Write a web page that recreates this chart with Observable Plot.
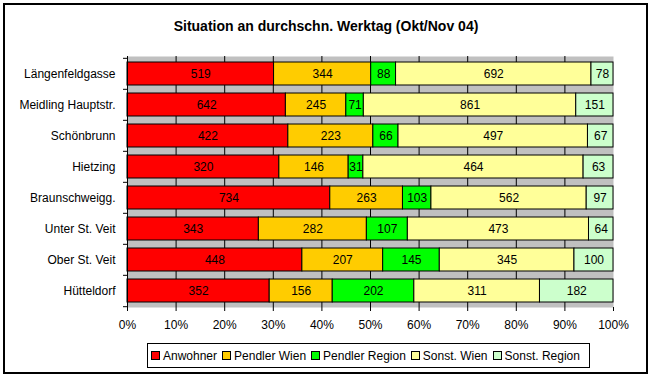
<!DOCTYPE html>
<html>
<head>
<meta charset="utf-8">
<script src="https://cdn.jsdelivr.net/npm/d3@7"></script>
<script src="https://cdn.jsdelivr.net/npm/@observablehq/plot@0.6"></script>
<style>
  html, body { margin: 0; padding: 0; background: #fff; }
  #wrap { position: relative; width: 652px; height: 376px; overflow: hidden; font-family: Arial, "Liberation Sans", sans-serif; }
  #frame { position: absolute; left: 3px; top: 3px; width: 641px; height: 367px; border: 2px solid #000; pointer-events: none; }
  #title { height: 44px; box-sizing: border-box; padding-top: 18px; text-align: center; font-weight: bold; font-size: 14px; line-height: 17px; color: #000; }
  #chart svg { display: block; }
  #legend { position: absolute; left: 147px; top: 343px; width: 443px; height: 25px; box-sizing: border-box; border: 1px solid #000; background: #fff; display: flex; align-items: center; padding-left: 3px; font-size: 12px; color: #000; }
  .item { display: flex; align-items: center; margin-right: 5px; white-space: nowrap; }
  .sw { width: 7px; height: 7px; border: 1px solid #000; margin-right: 3px; }
</style>
</head>
<body>
<div id="wrap">
  <div id="title">Situation an durchschn. Werktag (Okt/Nov 04)</div>
  <div id="chart"></div>
  <div id="legend"></div>
  <div id="frame"></div>
</div>
<script>
const stations = ["Längenfeldgasse", "Meidling Hauptstr.", "Schönbrunn", "Hietzing", "Braunschweigg.", "Unter St. Veit", "Ober St. Veit", "Hütteldorf"];
const categories = ["Anwohner", "Pendler Wien", "Pendler Region", "Sonst. Wien", "Sonst. Region"];
const colors = ["#FF0000", "#FFCC00", "#00FF00", "#FFFF99", "#CCFFCC"];
const anwohner      = [519, 642, 422, 320, 734, 343, 448, 352];
const pendlerWien   = [344, 245, 223, 146, 263, 282, 207, 156];
const pendlerRegion = [88, 71, 66, 31, 103, 107, 145, 202];
const sonstWien     = [692, 861, 497, 464, 562, 473, 345, 311];
const sonstRegion   = [78, 151, 67, 63, 97, 64, 100, 182];
const xTicks = [0, 0.1, 0.2, 0.3, 0.4, 0.5, 0.6, 0.7, 0.8, 0.9, 1];

const series = [anwohner, pendlerWien, pendlerRegion, sonstWien, sonstRegion];
const rows = stations.flatMap((s, i) => categories.map((c, j) => ({station: s, cat: c, value: series[j][i]})));

const W = 652, H = 300, mT = 12, mB = 37, mL = 127, mR = 39;
const step = (H - mT - mB) / stations.length;

const stackOpts = {offset: "normalize", x: "value", y: "station", z: "cat"};

const chart = Plot.plot({
  width: W, height: H,
  marginTop: mT, marginBottom: mB, marginLeft: mL, marginRight: mR,
  style: {fontFamily: "Arial, 'Liberation Sans', sans-serif", fontSize: "12px", color: "#000", background: "transparent"},
  x: {domain: [0, 1], axis: null, label: null},
  y: {domain: stations, paddingInner: 0.26, paddingOuter: 0.13, axis: null, label: null},
  color: {domain: categories, range: colors},
  marks: [
    Plot.frame({fill: "#C0C0C0", stroke: null}),
    Plot.ruleX(xTicks.slice(1, -1), {stroke: "#000", strokeWidth: 1}),
    Plot.barX(rows, Plot.stackX({...stackOpts, fill: "cat", stroke: "#000", strokeWidth: 1})),
    Plot.text(rows, Plot.stackX({...stackOpts, text: "value", fill: "#000", fontSize: 12})),
    Plot.ruleX([0], {stroke: "#000", strokeWidth: 1}),
    Plot.axisX({ticks: xTicks, tickFormat: d3.format(".0%"), tickSize: 4, tickPadding: 9, fontSize: 12, stroke: "#000", label: null}),
    Plot.ruleY([0], {stroke: "#000"}),
    Plot.axisY({tickSize: 0, tickPadding: 12, fontSize: 12, label: null}),
    Plot.axisY({tickSize: 4, text: null, dy: -step / 2, stroke: "#000", label: null}),
    Plot.axisY({ticks: stations.slice(-1), tickSize: 4, text: null, dy: step / 2, stroke: "#000", label: null})
  ]
});
document.getElementById("chart").appendChild(chart);

const legend = document.getElementById("legend");
categories.forEach((c, i) => {
  const item = document.createElement("div");
  item.className = "item";
  const sw = document.createElement("div");
  sw.className = "sw";
  sw.style.background = colors[i];
  const t = document.createElement("span");
  t.textContent = c;
  item.appendChild(sw);
  item.appendChild(t);
  legend.appendChild(item);
});
</script>
</body>
</html>
